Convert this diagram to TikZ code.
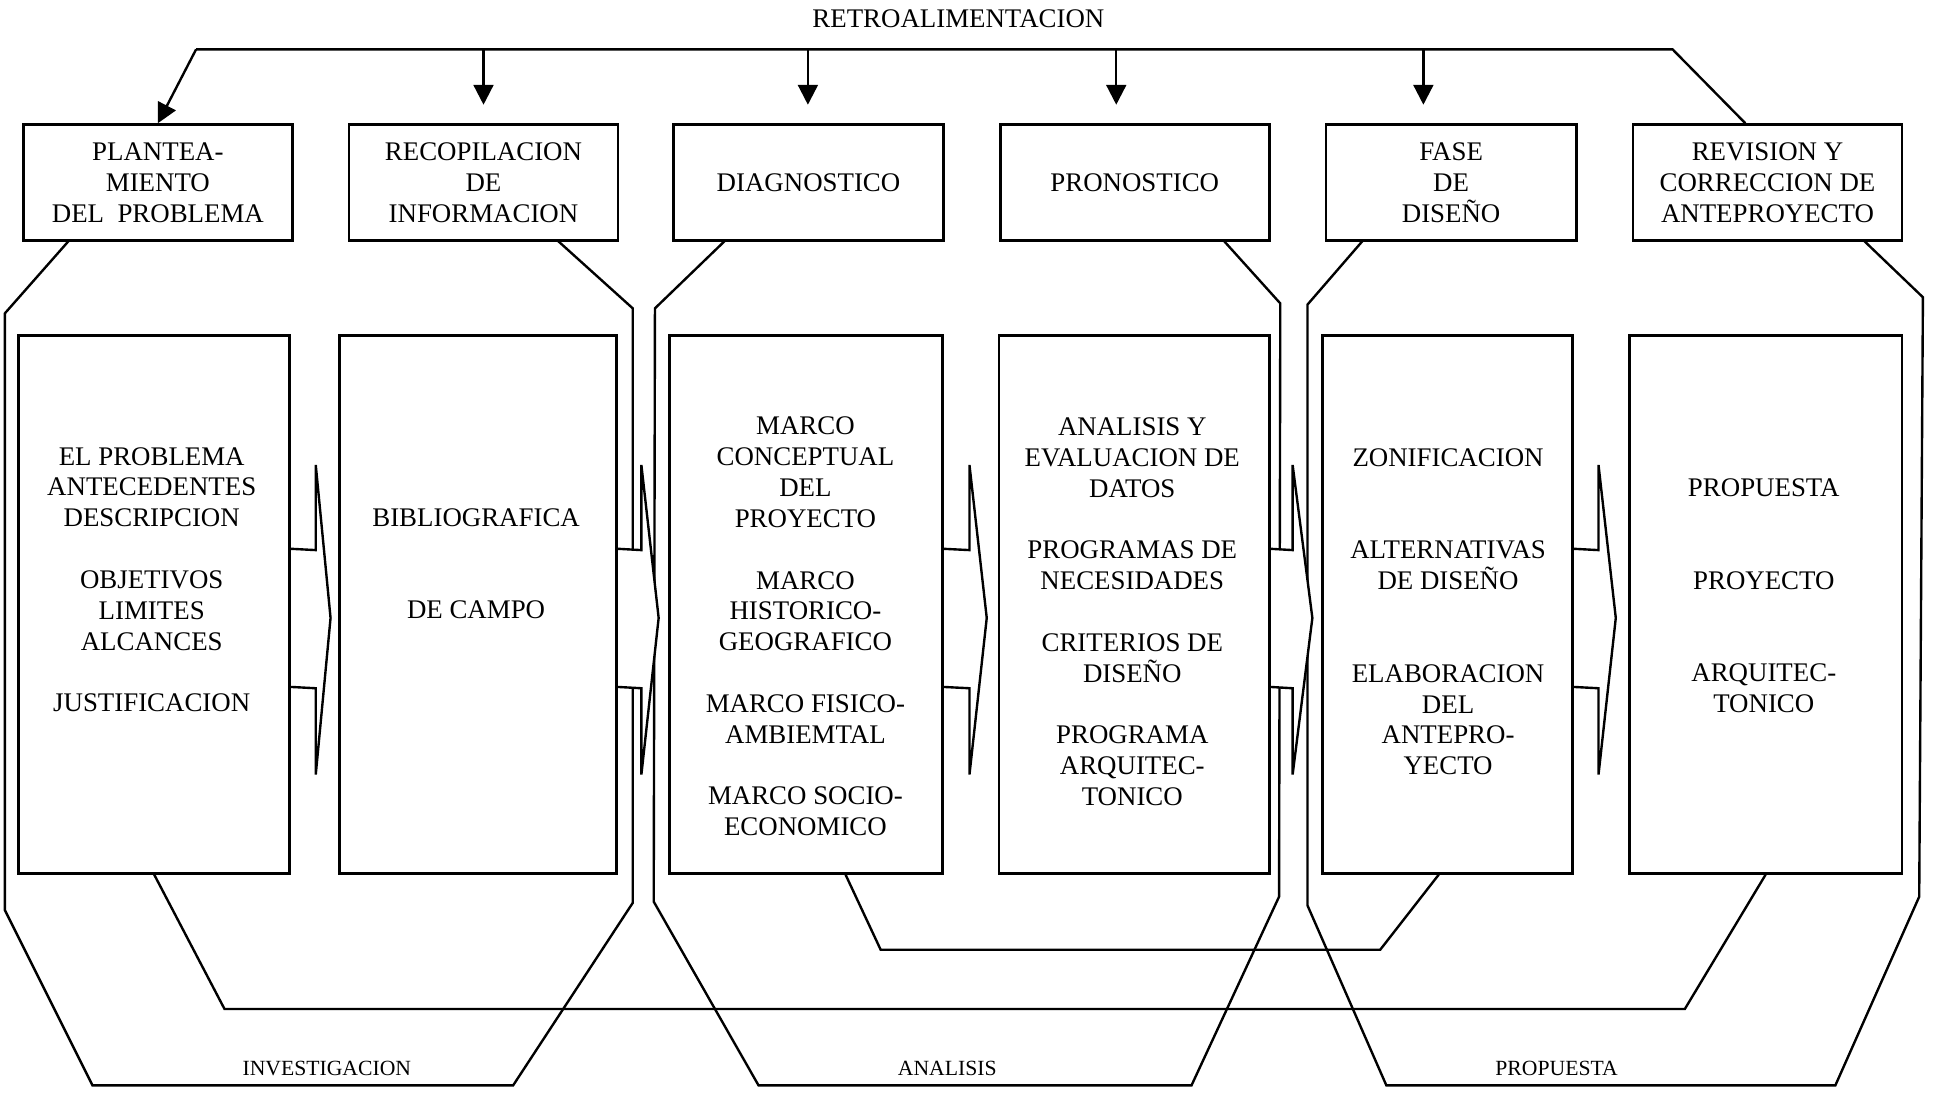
\documentclass[tikz,border=0pt]{standalone}
\usepackage{fontspec}
\setmainfont{Liberation Serif}
\usetikzlibrary{shapes,arrows,positioning,calc,arrows.meta,backgrounds}

\newcommand{\bigtxt}{\fontsize{12.4}{14.23}\selectfont}
\newcommand{\smalltxt}{\fontsize{10}{12}\selectfont}

\begin{document}
\begin{tikzpicture}[x=0.02cm, y=-0.02cm, line width=1.1pt,
    head/.style={draw, line width=1.25pt, align=center, inner sep=0pt, minimum width=4.36cm, minimum height=1.88cm, font=\bigtxt},
    panel/.style={draw, line width=1.25pt, inner sep=0pt, minimum width=4.4cm, minimum height=8.72cm},
    txt/.style={align=center, inner sep=0pt, font=\bigtxt},
    lbl/.style={inner sep=0pt, font=\smalltxt},
    fb/.style={-{Triangle[length=0.32cm,width=0.32cm]}},
    blk/.style={fill=white, line width=1.1pt},
    hull/.style={line width=1.1pt}]
    \useasboundingbox (0,0) rectangle (1568,888);

    \node[txt] (retro) at (777,15) {RETROALIMENTACION};

    % fases
    \node[head] (h1) at (128,148) {PLANTEA-\\MIENTO\\DEL~ PROBLEMA};
    \node[head] (h2) at (392,148) {RECOPILACION\\DE\\INFORMACION};
    \node[head, minimum width=4.38cm] (h3) at (655.5,148) {DIAGNOSTICO};
    \node[head] (h4) at (920,148) {PRONOSTICO};
    \node[head, minimum width=4.06cm] (h5) at (1176.5,148) {FASE\\DE\\DISEÑO};
    \node[head] (h6) at (1433,148) {REVISION Y\\CORRECCION DE\\ANTEPROYECTO};

    % contenidos
    \node[panel] (c1) at (125,490) {};
    \node[panel, minimum width=4.5cm] (c2) at (387.5,490) {};
    \node[panel, minimum width=4.42cm] (c3) at (653.5,490) {};
    \node[panel, minimum width=4.38cm] (c4) at (919.5,490) {};
    \node[panel, minimum width=4.06cm] (c5) at (1173.5,490) {};
    \node[panel, minimum width=4.42cm] (c6) at (1431.5,490) {};

    \node[txt] (t1) at (123,470) {EL PROBLEMA\\ANTECEDENTES\\DESCRIPCION\\[14.23pt]OBJETIVOS\\LIMITES\\ALCANCES\\[14.23pt]JUSTIFICACION};
    \node[txt] (t2) at (386,457) {BIBLIOGRAFICA\\[28.46pt]DE CAMPO};
    \node[txt] (t3) at (653,508) {MARCO\\CONCEPTUAL\\DEL\\PROYECTO\\[14.23pt]MARCO\\HISTORICO-\\GEOGRAFICO\\[14.23pt]MARCO FISICO-\\AMBIEMTAL\\[14.23pt]MARCO SOCIO-\\ECONOMICO};
    \node[txt] (t4) at (918,496) {ANALISIS Y\\EVALUACION DE\\DATOS\\[14.23pt]PROGRAMAS DE\\NECESIDADES\\[14.23pt]CRITERIOS DE\\DISEÑO\\[14.23pt]PROGRAMA\\ARQUITEC-\\TONICO};
    \node[txt] (t5) at (1174,496) {ZONIFICACION\\[28.46pt]ALTERNATIVAS\\DE DISEÑO\\[28.46pt]ELABORACION\\DEL\\ANTEPRO-\\YECTO};
    \node[txt] (t6) at (1430,483) {PROPUESTA\\[28.46pt]PROYECTO\\[28.46pt]ARQUITEC-\\TONICO};

    \node[lbl] (inv) at (265,866) {INVESTIGACION};
    \node[lbl] (ana) at (768,866) {ANALISIS};
    \node[lbl] (pro) at (1262,866) {PROPUESTA};

    % retroalimentacion
    \coordinate (fbL) at (159,40);
    \coordinate (fbR) at (1356,40);
    \draw (fbL) -- (fbR) -- ($(h6.north)+(-18,0)$);
    \draw[fb] (fbL) -- (h1.north);
    \foreach \x/\n in {392/h2, 655/h3, 905/h4, 1154/h5}{
        \coordinate (fb\n) at (\x,40);
        \draw[fb, shorten >=0.3cm] (fb\n) -- (fb\n |- \n.north);
    }
    \draw (c1.south) -- (182,818) -- (1366,818) -- (c6.south);
    \draw ($(c3.south)+(32,0)$) -- (714,770) -- (1119,770) -- ($(c5.south)+(-7,0)$);

    \begin{pgfonlayer}{background}
    \draw[hull] (452,195) -- (513,250) -- (513,732) -- (416,880) -- (75,880) -- (4,738) -- (4,254) -- (56,195); % Investigacion
    \draw[hull] (588,195) -- (531,250) -- (530,731) -- (615,880) -- (966,880) -- (1037,727) -- (1038,246) -- (992,195); % Analisis
    \draw[hull] (1105,195) -- (1060,247) -- (1060,734) -- (1124,880) -- (1488,880) -- (1556,727) -- (1559,241) -- (1511,195); % Propuesta
    \foreach \a/\s/\t in {c1/256/268, c2/520/534, c3/786/800, c4/1048/1064, c5/1296/1310}
        \filldraw[blk] ($(\a.north east)+(0,174)$) -- (\s,446) -- (\s,377) -- (\t,501) -- (\s,628) -- (\s,558) -- ($(\a.north east)+(0,286)$);
    \end{pgfonlayer}
\end{tikzpicture}
\end{document}
